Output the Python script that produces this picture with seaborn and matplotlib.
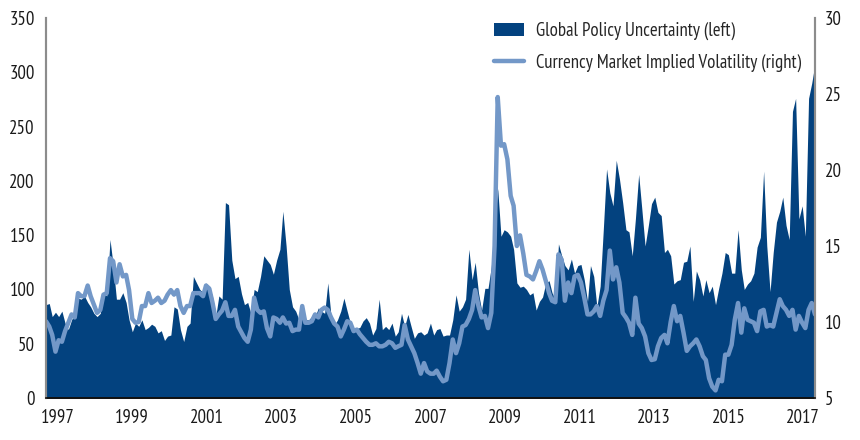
import numpy as np
import pandas as pd
import seaborn as sns
import matplotlib
matplotlib.use("Agg")
import matplotlib.pyplot as plt
import matplotlib.dates as mdates
from matplotlib.patches import Patch
from matplotlib.lines import Line2D

# monthly, Jan 1997 .. Jan 2017
months = pd.date_range("1997-01-01", "2017-01-01", freq="MS")

# Global Policy Uncertainty index (left axis)
epu = [
    86, 87, 75, 79, 75, 80, 69, 63, 72, 78,
    92, 91, 94, 88, 84, 78, 75, 78, 97, 94,
    146, 122, 91, 91, 97, 88, 72, 61, 69, 66,
    72, 63, 65, 68, 66, 60, 62, 53, 57, 58,
    84, 82, 63, 52, 66, 69, 112, 106, 100, 97,
    106, 102, 94, 75, 94, 91, 180, 178, 127, 110,
    112, 96, 86, 88, 78, 100, 98, 112, 131, 127,
    123, 114, 127, 137, 172, 140, 100, 84, 80, 72,
    80, 72, 72, 75, 75, 83, 80, 78, 106, 75,
    67, 72, 80, 92, 80, 69, 61, 64, 65, 71,
    74, 69, 58, 64, 91, 63, 66, 63, 69, 57,
    61, 78, 66, 77, 66, 55, 60, 61, 58, 60,
    69, 58, 63, 64, 57, 58, 58, 72, 95, 80,
    84, 91, 137, 109, 125, 97, 81, 101, 101, 121,
    159, 193, 149, 155, 153, 149, 137, 106, 102, 103,
    100, 95, 97, 81, 89, 93, 106, 108, 97, 91,
    142, 131, 122, 118, 128, 115, 122, 123, 109, 89,
    122, 112, 84, 103, 155, 211, 189, 177, 219, 202,
    180, 155, 153, 131, 165, 206, 174, 140, 159, 179,
    185, 171, 168, 134, 137, 131, 105, 108, 109, 125,
    126, 140, 89, 117, 109, 94, 109, 97, 103, 86,
    101, 115, 134, 132, 115, 115, 155, 118, 100, 105,
    108, 115, 139, 148, 209, 140, 98, 134, 162, 172,
    185, 159, 146, 264, 276, 165, 177, 149, 276, 290,
    308,
]

# Currency market implied volatility (right axis)
vol = [
    10.05, 9.7, 9.15, 8.05, 8.8, 8.7, 9.4, 9.95, 10.5, 10.3,
    11.9, 11.7, 11.7, 12.4, 11.7, 11.15, 10.6, 10.8, 11.8, 11.9,
    14.2, 14.0, 12.6, 13.8, 13.0, 13.1, 12.1, 10.2, 9.95, 10.0,
    11.05, 11.05, 11.9, 11.25, 11.4, 11.6, 11.25, 11.4, 11.8, 12.1,
    11.8, 12.1, 11.05, 10.6, 11.05, 11.05, 11.9, 11.9, 11.9, 11.7,
    12.4, 12.2, 11.3, 10.2, 10.5, 10.75, 11.3, 10.4, 10.4, 10.8,
    9.7, 9.3, 8.95, 8.7, 9.5, 11.6, 10.8, 10.6, 10.7, 9.6,
    9.05, 10.3, 10.2, 9.95, 10.3, 9.9, 9.95, 9.4, 9.5, 9.5,
    11.05, 9.95, 9.95, 10.05, 10.5, 10.3, 10.8, 10.95, 10.8, 10.3,
    9.9, 9.7, 9.05, 9.5, 10.05, 9.95, 9.4, 9.5, 9.2, 8.95,
    8.7, 8.5, 8.5, 8.6, 8.4, 8.4, 8.5, 8.7, 8.6, 8.3,
    8.4, 8.5, 9.8, 8.85, 8.4, 7.95, 7.3, 6.6, 7.3, 6.75,
    6.6, 6.6, 6.8, 6.4, 6.1, 6.2, 7.3, 8.85, 7.95, 8.6,
    9.7, 9.8, 10.2, 10.8, 12.1, 11.05, 10.3, 10.4, 9.6, 10.6,
    15.0, 24.8, 21.6, 21.7, 20.7, 18.3, 17.65, 15.0, 15.7, 14.5,
    13.1, 13.0, 12.8, 13.35, 14.0, 13.45, 12.7, 11.9, 11.4, 11.3,
    14.45, 14.1, 11.4, 12.6, 11.9, 13.0, 13.1, 12.6, 11.6, 10.5,
    10.5, 10.7, 11.05, 10.4, 11.4, 12.1, 14.7, 12.8, 13.6, 12.6,
    10.6, 10.3, 9.95, 9.15, 11.6, 9.9, 9.6, 9.05, 7.95, 7.5,
    7.55, 8.4, 8.95, 9.15, 8.6, 10.0, 11.05, 10.05, 10.4, 9.3,
    8.1, 8.4, 8.6, 8.85, 8.4, 7.75, 7.5, 6.3, 5.75, 5.5,
    6.2, 6.1, 7.85, 7.85, 8.5, 10.15, 11.25, 9.3, 10.9, 10.15,
    10.05, 9.95, 9.4, 10.7, 10.8, 9.7, 9.8, 9.7, 10.6, 11.5,
    11.05, 10.8, 10.4, 10.8, 9.5, 10.4, 9.95, 9.6, 10.8, 11.25,
    10.5,
]

year_labels = ["1997", "1999", "2001", "2003", "2005", "2007",
               "2009", "2011", "2013", "2015", "2017"]
left_ticks = [0, 50, 100, 150, 200, 250, 300, 350]
right_ticks = [5, 10, 15, 20, 25, 30]

df = pd.DataFrame({"month": months, "epu": epu, "vol": vol})

DARK = "#03427f"
LIGHT = "#7398c8"
FS = 13.5

sns.set_style("white")
plt.rcParams["font.family"] = ["PT Sans Narrow", "DejaVu Sans"]

fig = plt.figure(figsize=(8.6, 4.4), dpi=100)
ax = fig.add_axes([46 / 860, 42 / 440, 769 / 860, 380 / 440])
ax2 = ax.twinx()

ax.fill_between(df["month"], 0, df["epu"], color=DARK, linewidth=0)
sns.lineplot(data=df, x="month", y="vol", ax=ax2, color=LIGHT, linewidth=3.2)

ax.set_xlim(df["month"].iloc[0], df["month"].iloc[-1])
ax.set_ylim(0, 350)
ax2.set_ylim(5, 30)
ax.set_yticks(left_ticks)
ax2.set_yticks(right_ticks)

# year labels sit a little off the january positions, as in the original
num = mdates.date2num(df["month"])
tick_pos = np.interp(np.linspace(3.7, 236.3, len(year_labels)), np.arange(len(num)), num)
ax.set_xticks(tick_pos)
ax.set_xticklabels(year_labels)

ax.set_xlabel("")
ax.set_ylabel("")
ax2.set_xlabel("")
ax2.set_ylabel("")

for a in (ax, ax2):
    a.spines["top"].set_visible(False)
    a.spines["left"].set_color("#8c8c8c")
    a.spines["right"].set_color("#8c8c8c")
    a.spines["left"].set_linewidth(1.5)
    a.spines["right"].set_linewidth(1.5)
    a.spines["bottom"].set_color("#111111")
    a.spines["bottom"].set_linewidth(1.2)
    a.tick_params(length=0, labelsize=FS, colors="#1a1a1a")
ax.tick_params(axis="y", pad=8)
ax.tick_params(axis="x", pad=8)
ax2.tick_params(axis="y", pad=7)

handles = [Patch(facecolor=DARK, edgecolor="none"),
           Line2D([0], [0], color=LIGHT, linewidth=3.2)]
ax2.legend(handles, ["Global Policy Uncertainty (left)",
                     "Currency Market Implied Volatility (right)"],
           loc="upper left", bbox_to_anchor=(494 / 860, 1 - 22 / 440),
           bbox_transform=fig.transFigure, frameon=False, fontsize=FS,
           handlelength=1.6, handleheight=0.65, handletextpad=0.65,
           labelspacing=0.7, borderpad=0, borderaxespad=0)

fig.savefig("out.png", dpi=100)
